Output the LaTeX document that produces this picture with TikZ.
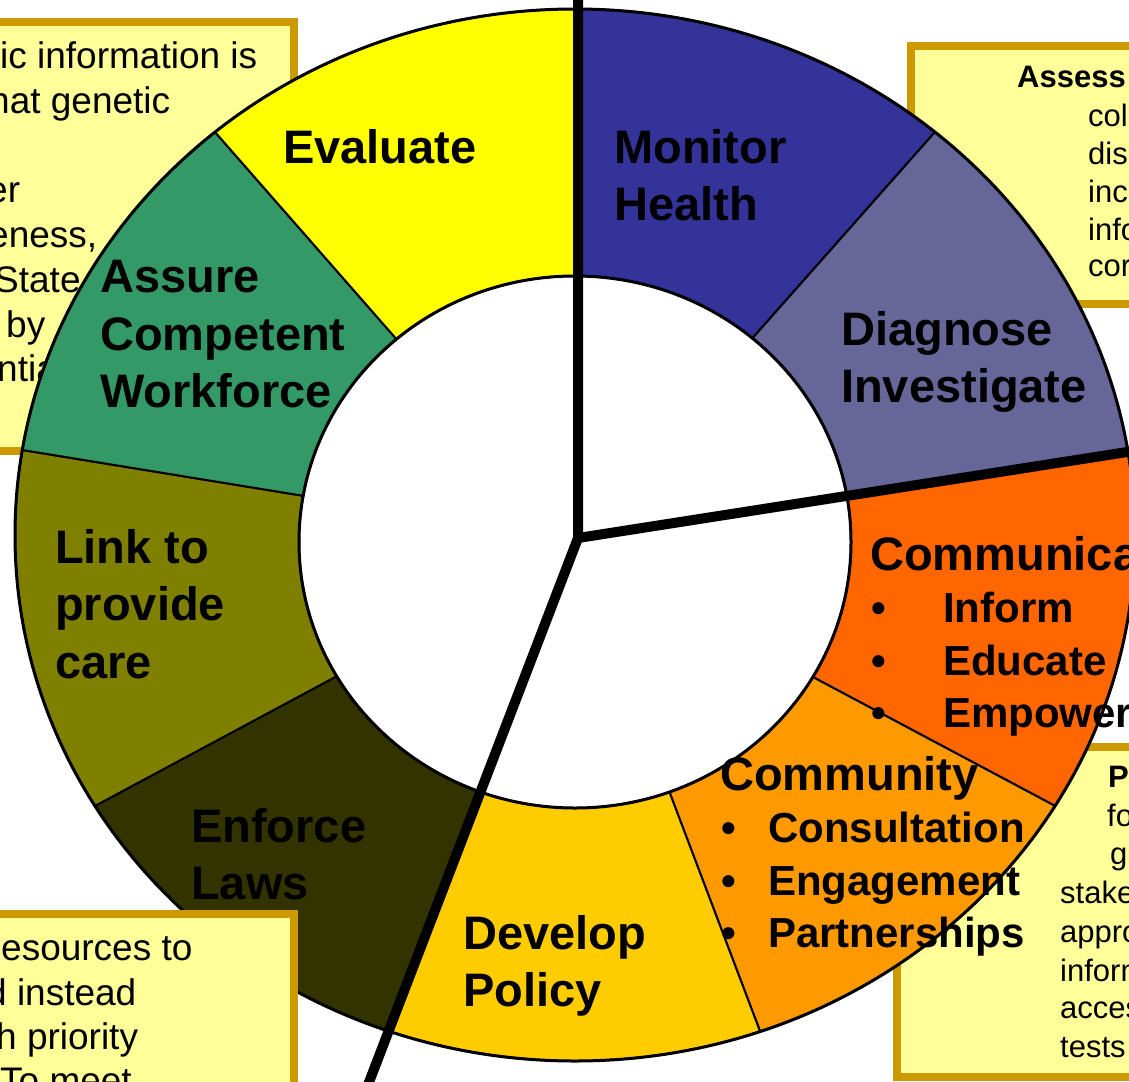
\documentclass[tikz,border=0pt]{standalone}
\usepackage{fontspec}
\setmainfont{Liberation Sans}
\usetikzlibrary{calc}
\definecolor{boxfill}{HTML}{FFFF99}
\definecolor{boxline}{HTML}{CC9900}
\definecolor{cEval}{HTML}{FFFF00}
\definecolor{cMon}{HTML}{333399}
\definecolor{cDiag}{HTML}{666699}
\definecolor{cComm}{HTML}{FF6600}
\definecolor{cCmty}{HTML}{FF9900}
\definecolor{cDev}{HTML}{FFCC00}
\definecolor{cEnf}{HTML}{333300}
\definecolor{cLink}{HTML}{808000}
\definecolor{cAss}{HTML}{339966}
\newcommand\ringseg[5]{%
  \filldraw[segline, fill=#1]
    ($(OC)+(#2:560 and 526)$) arc[start angle=#2, end angle=#3, x radius=560, y radius=526]
    -- ($(IC)+(#5:276 and 266)$) arc[start angle=#5, end angle=#4, x radius=276, y radius=266]
    -- cycle;}
\begin{document}
\begin{tikzpicture}[x=1pt, y=-1pt,
  segline/.style={draw=black, line width=2pt, line join=round},
  rimline/.style={draw=black, line width=3pt},
  boxframe/.style={draw=boxline, fill=boxfill, line width=8pt},
  thickline/.style={draw=black, line width=10pt, line join=miter},
  boxtxt/.style={anchor=base west, inner sep=0pt, font=\fontsize{37}{44}\selectfont},
  rtxt/.style={anchor=base west, inner sep=0pt, font=\fontsize{31}{38}\selectfont},
  rbold/.style={anchor=base west, inner sep=0pt, font=\bfseries\fontsize{31}{38}\selectfont},
  lab/.style={anchor=base west, inner sep=0pt, font=\bfseries\fontsize{47}{57}\selectfont},
  sublab/.style={anchor=base west, inner sep=0pt, font=\bfseries\fontsize{42}{52}\selectfont}]
\useasboundingbox (0,0) rectangle (1129,1081);
\fill[white] (0,0) rectangle (1129,1081);
\coordinate (OC) at (575,535);
\coordinate (IC) at (575,542);

% boxes behind the ring
\draw[boxframe] (-10,22) rectangle (294,451);
\node[boxtxt] (tl1) at (0,68) {ic information is};
\node[boxtxt] (tl2) at (-11,113) {hat genetic};
\node[boxtxt] (tl3) at (-13,202) {er};
\node[boxtxt] (tl4) at (-12,247) {eness,};
\node[boxtxt] (tl5) at (-6,292) {State};
\node[boxtxt] (tl6) at (6,337) {by};
\node[boxtxt] (tl7) at (-3,381) {ntia};

\draw[boxframe] (911,46) rectangle (1140,304);
\node[rbold] (tr0) at (1017,88) {Assess};
\node[rtxt] (tr1) at (1088,126) {col};
\node[rtxt] (tr2) at (1088,164) {dis};
\node[rtxt] (tr3) at (1088,202) {inc};
\node[rtxt] (tr4) at (1088,240) {info};
\node[rtxt] (tr5) at (1088,276) {cor};

\draw[boxframe] (897,747) rectangle (1140,1077);
\node[rbold] (br0) at (1108,787) {P};
\node[rtxt] (br1) at (1107,826) {fo};
\node[rtxt] (br2) at (1110,864) {gu};
\node[rtxt] (br3) at (1060,903) {stake};
\node[rtxt] (br4) at (1060,942) {appro};
\node[rtxt] (br5) at (1060,981) {inform};
\node[rtxt] (br6) at (1060,1018) {acces};
\node[rtxt] (br7) at (1060,1057) {tests};

% ring
\ringseg{cMon}{-90}{-50}{-90}{-50}
\ringseg{cDiag}{-50}{-9.3}{-50}{-10}
\ringseg{cComm}{-9.3}{31}{-10}{30.5}
\ringseg{cCmty}{31}{70.7}{30.5}{70}
\ringseg{cDev}{70.7}{109.5}{70}{110}
\ringseg{cEnf}{109.5}{149}{110}{149.7}
\ringseg{cLink}{149}{189.3}{149.7}{190}
\ringseg{cAss}{189.3}{230}{190}{229.7}
\ringseg{cEval}{230}{270}{229.7}{270}
\draw[rimline] (OC) ellipse [x radius=560, y radius=526];
\draw[rimline] (IC) ellipse [x radius=276, y radius=266];

% thick dividing lines
\coordinate (J) at (578,538);
\coordinate (T) at (578,-10);
\coordinate (R) at (1140,450);
\coordinate (B) at (366,1090);
\draw[thickline] (T) -- (J) -- (R);
\draw[thickline] (J) -- (B);

% labels
\node[lab] (ev) at (283,163) {Evaluate};
\node[lab] (mo1) at (614,163) {Monitor};
\node[lab] (mo2) at (614,220) {Health};
\node[lab] (di1) at (841,345) {Diagnose};
\node[lab] (di2) at (841,402) {Investigate};
\node[lab] (as1) at (100,292) {Assure};
\node[lab] (as2) at (100,350) {Competent};
\node[lab] (as3) at (100,407) {Workforce};
\node[lab] (li1) at (55,563) {Link to};
\node[lab] (li2) at (55,620) {provide};
\node[lab] (li3) at (55,678) {care};
\node[lab] (en1) at (191,842) {Enforce};
\node[lab] (en2) at (191,899) {Laws};
\node[lab] (de1) at (463,949) {Develop};
\node[lab] (de2) at (463,1006) {Policy};
\node[lab] (co0) at (870,570) {Communicate};
\node[sublab] (cob1) at (871,622) {•};
\node[sublab] (co1) at (943,622) {Inform};
\node[sublab] (cob2) at (871,675) {•};
\node[sublab] (co2) at (943,675) {Educate};
\node[sublab] (cob3) at (871,727) {•};
\node[sublab] (co3) at (943,727) {Empower};
\node[lab] (cm0) at (720,790) {Community};
\node[sublab] (cmb1) at (721,842) {•};
\node[sublab] (cm1) at (768,842) {Consultation};
\node[sublab] (cmb2) at (721,895) {•};
\node[sublab] (cm2) at (768,895) {Engagement};
\node[sublab] (cmb3) at (721,947) {•};
\node[sublab] (cm3) at (768,947) {Partnerships};

% box in front of the ring
\draw[boxframe] (-10,914) rectangle (294,1095);
\node[boxtxt] (bl1) at (1,960) {esources to};
\node[boxtxt] (bl2) at (-14,1005) {d instead};
\node[boxtxt] (bl3) at (-4,1049) {h priority};
\node[boxtxt] (bl4) at (0,1093) {To meet};
\end{tikzpicture}
\end{document}
